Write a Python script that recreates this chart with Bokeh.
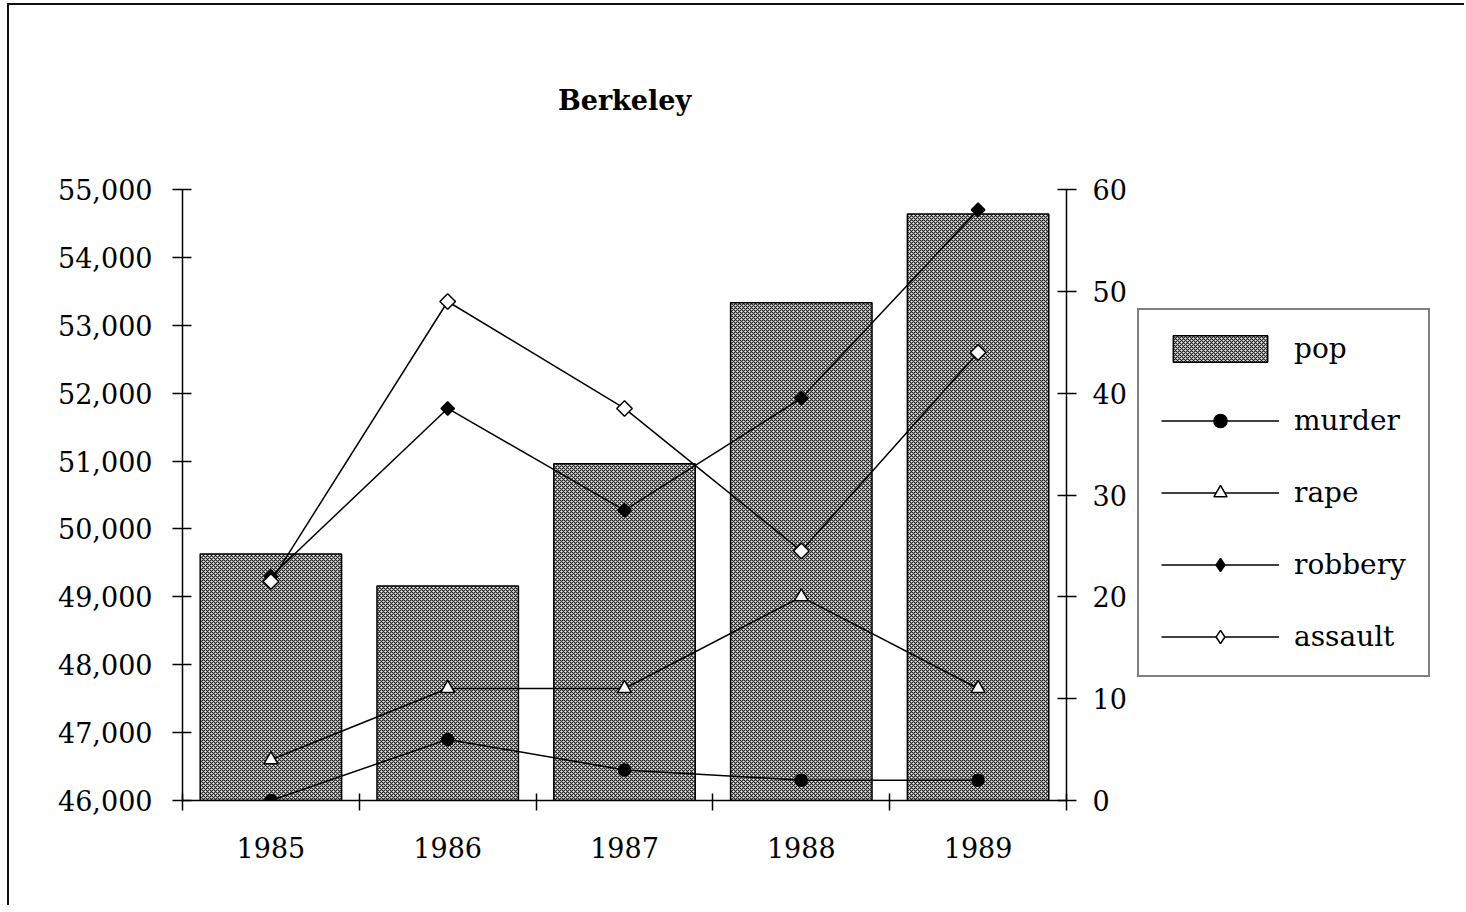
from bokeh.plotting import figure
from bokeh.layouts import row
from bokeh.models import (Range1d, LinearAxis, FixedTicker, NumeralTickFormatter,
                          Legend, LegendItem, ColumnDataSource)
from bokeh.embed import file_html
from bokeh.resources import INLINE
import math

# ---- data ----
years = ["1985", "1986", "1987", "1988", "1989"]
pop = [49630, 49160, 50960, 53330, 54640]
murder = [0, 6, 3, 2, 2]
rape = [4, 11, 11, 20, 11]
robbery = [22, 38.5, 28.5, 39.5, 58]
assault = [21.5, 49, 38.5, 24.5, 44]
left_ticks = [46000, 47000, 48000, 49000, 50000, 51000, 52000, 53000, 54000, 55000]
right_ticks = [0, 10, 20, 30, 40, 50, 60]
title_text = "Berkeley"
series_names = ["pop", "murder", "rape", "robbery", "assault"]

FONT = "DejaVu Serif"
x = list(range(len(years)))
src = ColumnDataSource(dict(x=x, pop=pop, murder=murder, rape=rape,
                            robbery=robbery, assault=assault))

# ---------------- main chart ----------------
p = figure(width=1127, height=900, output_backend="svg", toolbar_location=None,
           x_range=Range1d(-0.5, len(years) - 0.5),
           y_range=Range1d(left_ticks[0], left_ticks[-1]),
           min_border_left=173, min_border_right=70,
           min_border_top=184, min_border_bottom=105,
           title=title_text)
p.extra_y_ranges = {"crime": Range1d(right_ticks[0], right_ticks[-1])}
p.outline_line_color = None
p.xgrid.visible = False
p.ygrid.visible = False
p.background_fill_color = "white"
p.border_fill_color = "white"

p.title.align = "center"
p.title.text_font = FONT
p.title.text_font_size = "27px"
p.title.text_font_style = "bold"
p.title.text_color = "black"
p.title.standoff = 148

ya = p.yaxis[0]
ya.ticker = FixedTicker(ticks=left_ticks)
ya.formatter = NumeralTickFormatter(format="0,0")
ya.major_tick_in = 9
ya.major_tick_out = 10
ya.minor_tick_line_color = None
ya.major_label_standoff = 20

ra = LinearAxis(y_range_name="crime", ticker=FixedTicker(ticks=right_ticks))
ra.major_tick_in = 9
ra.major_tick_out = 10
ra.minor_tick_line_color = None
ra.major_label_standoff = 16
p.add_layout(ra, "right")

xa = p.xaxis[0]
xa.ticker = FixedTicker(ticks=x, minor_ticks=[i - 0.5 for i in range(len(years) + 1)])
xa.major_label_overrides = {i: y for i, y in enumerate(years)}
xa.major_tick_in = 0
xa.major_tick_out = 0
xa.major_tick_line_color = None
xa.minor_tick_in = 7
xa.minor_tick_out = 10
xa.minor_tick_line_color = "black"
xa.minor_tick_line_width = 1.5
xa.major_label_standoff = 26

for ax in (ya, ra, xa):
    ax.axis_line_color = "black"
    ax.axis_line_width = 1.5
    ax.major_tick_line_width = 1.5
    ax.major_label_text_font = FONT
    ax.major_label_text_font_size = "27px"
    ax.major_label_text_color = "black"
for ax in (ya, ra):
    ax.major_tick_line_color = "black"

BAR_STYLE = dict(fill_color="#e8e8e8", line_color="black", line_width=1.5,
                 hatch_pattern="x", hatch_scale=4, hatch_weight=1.2, hatch_color="#222")
MARKERS = {"murder": ("circle", 12, "black"),
           "rape": ("triangle", 14, "white"),
           "robbery": ("square", 9.5, "black"),
           "assault": ("square", 11, "white")}

p.vbar(x="x", top="pop", bottom=left_ticks[0], width=0.8, source=src, **BAR_STYLE)
for name in series_names[1:]:
    mk, size, fill = MARKERS[name]
    p.line("x", name, source=src, y_range_name="crime", line_color="black", line_width=1.5)
    p.scatter("x", name, source=src, y_range_name="crime", marker=mk, size=size,
              fill_color=fill, line_color="black", line_width=1.5,
              angle=math.pi / 4 if mk == "square" else 0.0)

# ---------------- legend panel ----------------
q = figure(width=328, height=900, output_backend="svg", toolbar_location=None,
           x_axis_location=None, y_axis_location=None,
           min_border_left=0, min_border_right=0, min_border_top=0, min_border_bottom=0)
q.outline_line_color = None
q.xgrid.visible = False
q.ygrid.visible = False
q.background_fill_color = "white"
q.border_fill_color = "white"

items = []
qb = q.vbar(x="x", top="pop", bottom=left_ticks[0], width=0.8, source=src,
            visible=False, **BAR_STYLE)
items.append(LegendItem(label=series_names[0], renderers=[qb]))
LEG_MARKERS = {"murder": ("circle", 12, "black"),
               "rape": ("triangle", 14, "white"),
               "robbery": ("diamond", 15, "black"),
               "assault": ("diamond", 17, "white")}
for name in series_names[1:]:
    mk, size, fill = LEG_MARKERS[name]
    ql = q.line("x", name, source=src, line_color="black", line_width=1.5, visible=False)
    qs = q.scatter("x", name, source=src, marker=mk, size=size, fill_color=fill,
                   line_color="black", line_width=1.5, visible=False)
    items.append(LegendItem(label=name, renderers=[ql, qs]))

legend = Legend(items=items, location=(1, 123))
legend.glyph_width = 118
legend.glyph_height = 33
legend.label_height = 30
legend.label_standoff = 15
legend.spacing = 39
legend.padding = 22
legend.margin = 0
legend.border_line_color = "black"
legend.border_line_width = 2
legend.label_text_font = FONT
legend.label_text_font_size = "28px"
legend.label_text_color = "black"
legend.background_fill_color = "white"
legend.background_fill_alpha = 1.0
legend.inactive_fill_alpha = 0.0
q.add_layout(legend)

layout = row(p, q, spacing=0,
             styles={"border-top": "2px solid #111", "border-left": "2px solid #111",
                     "margin-top": "3px", "margin-left": "7px"})

open("out.html", "w").write(file_html(layout, INLINE))
